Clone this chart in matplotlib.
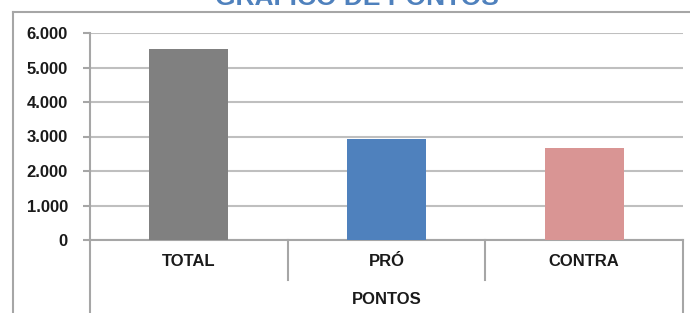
import matplotlib
matplotlib.use("Agg")
import matplotlib.pyplot as plt
from matplotlib.ticker import FuncFormatter
from matplotlib.lines import Line2D
import matplotlib.transforms as mtransforms

categories = ["TOTAL", "PRÓ", "CONTRA"]
values = [5540, 2920, 2670]
bar_colors = ["#808080", "#4F81BD", "#D99594"]
yticks = [0, 1000, 2000, 3000, 4000, 5000, 6000]
title = "GRÁFICO DE PONTOS"
group_label = "PONTOS"

plt.rcParams['font.family'] = ['Liberation Sans', 'DejaVu Sans']

W, H = 690, 313
fig = plt.figure(figsize=(W / 100, H / 100), dpi=100)
fig.patch.set_facecolor("white")

ax_left, ax_right, ax_top, ax_bottom = 90, 683, 33, 240
ax = fig.add_axes([ax_left / W, (H - ax_bottom) / H,
                   (ax_right - ax_left) / W, (ax_bottom - ax_top) / H])

x = list(range(len(categories)))
ax.bar(x, values, width=0.4, color=bar_colors, zorder=3)
ax.set_xlim(-0.5, len(categories) - 0.5)
ax.set_ylim(0, 6000)
ax.set_yticks(yticks)
ax.yaxis.set_major_formatter(FuncFormatter(lambda v, p: f"{int(v):,}".replace(",", ".")))
ax.yaxis.grid(True, color="#BFBFBF", linewidth=1.5, zorder=0)
ax.set_axisbelow(True)

grid_gray = "#A6A6A6"
for s in ["top", "right"]:
    ax.spines[s].set_visible(False)
ax.spines["left"].set_color(grid_gray)
ax.spines["bottom"].set_color(grid_gray)
ax.spines["left"].set_linewidth(1.5)
ax.spines["bottom"].set_linewidth(1.5)

ax.tick_params(axis="y", length=5, width=1.5, color=grid_gray, pad=11,
               labelsize=12, labelcolor="#1a1a1a")
for lab in ax.get_yticklabels():
    lab.set_fontweight("bold")

ax.set_xticks(x)
ax.set_xticklabels(categories, fontsize=12, fontweight="bold", color="#1a1a1a")
ax.tick_params(axis="x", length=0, pad=10)

# multi-level category separators
trans = mtransforms.blended_transform_factory(ax.transData, ax.transAxes)
axh = ax_bottom - ax_top
for i in range(len(categories) + 1):
    xv = i - 0.5
    ybot = -(H - ax_bottom) / axh if i in (0, len(categories)) else -40 / axh
    ax.add_line(Line2D([xv, xv], [0, ybot], transform=trans, color=grid_gray,
                       linewidth=1.5, clip_on=False))

ax.text((len(categories) - 1) / 2, -(299 - ax_bottom) / axh, group_label,
        transform=trans, ha="center", va="center", fontsize=12,
        fontweight="bold", color="#1a1a1a")

# outer chart frame
fig.add_artist(Line2D([13 / W, 13 / W], [0, 1 - 12 / H], transform=fig.transFigure,
                      color="#A6A6A6", linewidth=1.5))
fig.add_artist(Line2D([13 / W, 1], [1 - 12 / H, 1 - 12 / H], transform=fig.transFigure,
                      color="#A6A6A6", linewidth=1.5))

# title (mostly cut off at top, as in the reference)
fig.text(357 / W, 1 - 5 / H, title, ha="center", va="baseline", fontsize=19,
         fontweight="bold", color="#4F81BD")

fig.savefig("out.png", dpi=100)
